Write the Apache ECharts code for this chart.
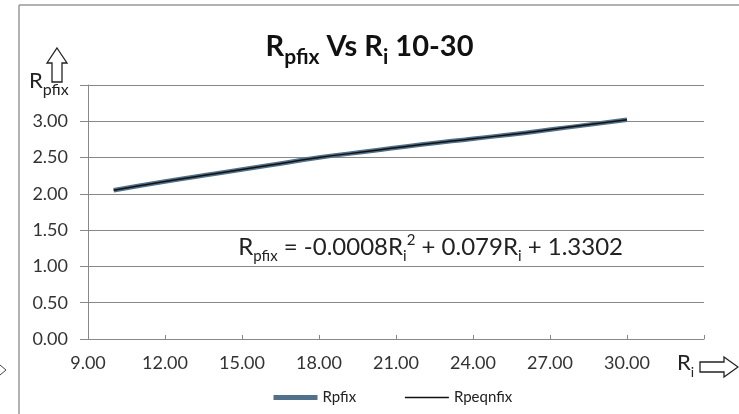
<!DOCTYPE html>
<html>
<head>
<meta charset="utf-8">
<script src="https://cdn.jsdelivr.net/npm/echarts@6/dist/echarts.min.js"></script>
<style>
html, body { margin: 0; padding: 0; background: #fff; }
#chart { width: 739px; height: 414px; }
</style>
</head>
<body>
<div id="chart"></div>
<script>
// values
var riValues = [10, 12, 14, 16, 18, 20, 22, 24, 26, 28, 30];
var rpfixValues = [2.05, 2.17, 2.28, 2.39, 2.50, 2.59, 2.68, 2.76, 2.84, 2.93, 3.02];
var rpeqnfixValues = [2.05, 2.17, 2.28, 2.39, 2.50, 2.59, 2.68, 2.76, 2.84, 2.93, 3.02];
var seriesNames = ['Rpfix', 'Rpeqnfix'];

function pairs(xs, ys) {
	var out = [];
	for (var i = 0; i < xs.length; i++) {
		out.push([xs[i], ys[i]]);
	}
	return out;
}

var font = 'Lato, "Open Sans", sans-serif';
var chart = echarts.init(document.getElementById('chart'));
var option = {
	backgroundColor: '#fff',
	animation: false,
	title: {
		text: '{r|R}{s|pfix}{r| Vs R}{s|i}{r| 10-30}',
		left: 'center',
		top: 21,
		textStyle: {
			rich: {
				r: { fontSize: 29, fontWeight: 'bold', fontFamily: font, color: '#111', verticalAlign: 'bottom', lineHeight: 35 },
				s: { fontSize: 21, fontWeight: 'bold', fontFamily: font, color: '#111', verticalAlign: 'bottom', padding: [0, 0, -7, 0], lineHeight: 35 }
			}
		}
	},
	grid: { left: 88, right: 35, top: 85, bottom: 75 },
	legend: {
		bottom: 4,
		left: 266,
		itemWidth: 44,
		itemHeight: 14,
		itemGap: 48,
		textStyle: { fontFamily: font, fontSize: 15, color: '#222' },
		data: [
			{ name: seriesNames[0], itemStyle: { opacity: 0 }, lineStyle: { width: 5, color: '#51708a' } },
			{ name: seriesNames[1], itemStyle: { opacity: 0 }, lineStyle: { width: 1.5, color: '#111' } }
		]
	},
	xAxis: {
		type: 'value',
		min: 9,
		max: 33,
		interval: 3,
		axisLine: { lineStyle: { color: '#888', width: 1 } },
		axisTick: { inside: true, length: 4, lineStyle: { color: '#888' } },
		splitLine: { show: false },
		axisLabel: {
			fontFamily: font, fontSize: 18, color: '#333', margin: 15,
			formatter: function(v) { return v >= 33 ? '' : v.toFixed(2); }
		}
	},
	yAxis: {
		type: 'value',
		min: 0,
		max: 3.5,
		interval: 0.5,
		axisLine: { show: true, lineStyle: { color: '#888', width: 1 } },
		axisTick: { show: true, length: 8, lineStyle: { color: '#888' } },
		splitLine: { lineStyle: { color: '#888', width: 1 } },
		axisLabel: {
			fontFamily: font, fontSize: 18, color: '#333', margin: 20,
			formatter: function(v) { return v >= 3.5 ? '' : v.toFixed(2); }
		}
	},
	series: [{
		name: seriesNames[0],
		type: 'line',
		symbol: 'none',
		smooth: true,
		lineStyle: { color: '#51708a', width: 4.5 },
		itemStyle: { color: '#51708a' },
		data: pairs(riValues, rpfixValues)
	}, {
		name: seriesNames[1],
		type: 'line',
		symbol: 'none',
		smooth: true,
		lineStyle: { color: '#111', width: 1.5 },
		itemStyle: { color: '#111' },
		data: pairs(riValues, rpeqnfixValues)
	}],
	graphic: [
		// frame of the chart box
		{ type: 'line', shape: { x1: 19, y1: 5, x2: 739, y2: 5 }, style: { stroke: '#999', lineWidth: 1.5 } },
		{ type: 'line', shape: { x1: 19, y1: 5, x2: 19, y2: 414 }, style: { stroke: '#999', lineWidth: 1.5 } },
		// piece of an arrow from the neighbouring chart
		{ type: 'polyline', shape: { points: [[0, 365], [6, 370], [0, 375]] }, style: { stroke: '#444', lineWidth: 1, fill: null } },
		// y axis name with arrow
		{
			type: 'text', left: 29, top: 70,
			style: {
				text: '{r|R}{s|pfix}',
				rich: {
					r: { fontSize: 22, fontFamily: font, fill: '#222', verticalAlign: 'bottom', lineHeight: 24 },
					s: { fontSize: 16, fontFamily: font, fill: '#222', verticalAlign: 'bottom', lineHeight: 24, padding: [0, 0, -6, 0] }
				}
			}
		},
		{
			type: 'polygon',
			shape: { points: [[57, 48], [67, 63], [62, 63], [62, 82], [52, 82], [52, 63], [47, 63]] },
			style: { fill: '#fff', stroke: '#222', lineWidth: 1.3 }
		},
		// x axis name with arrow
		{
			type: 'text', left: 677, top: 352,
			style: {
				text: '{r|R}{s|i}',
				rich: {
					r: { fontSize: 22, fontFamily: font, fill: '#222', verticalAlign: 'bottom', lineHeight: 24 },
					s: { fontSize: 14, fontFamily: font, fill: '#222', verticalAlign: 'bottom', lineHeight: 24, padding: [0, 0, -5, 0] }
				}
			}
		},
		{
			type: 'polygon',
			shape: { points: [[700, 362], [724, 362], [724, 357], [738, 367], [724, 377], [724, 372], [700, 372]] },
			style: { fill: '#fff', stroke: '#222', lineWidth: 1.3 }
		},
		// trendline equation
		{
			type: 'text', right: 116, top: 231,
			style: {
				text: '{r|R}{s|pfix}{r| = -0.0008R}{s|i}{p|2}{r| + 0.079R}{s|i}{r| + 1.3302}',
				rich: {
					r: { fontSize: 24, fontFamily: font, fill: '#222', verticalAlign: 'bottom', lineHeight: 28 },
					s: { fontSize: 15, fontFamily: font, fill: '#222', verticalAlign: 'bottom', lineHeight: 28, padding: [0, 0, -5, 0] },
					p: { fontSize: 15, fontFamily: font, fill: '#222', verticalAlign: 'top', lineHeight: 28, padding: [2, 0, 0, 0] }
				}
			}
		}
	]
};
chart.setOption(option);
</script>
</body>
</html>
